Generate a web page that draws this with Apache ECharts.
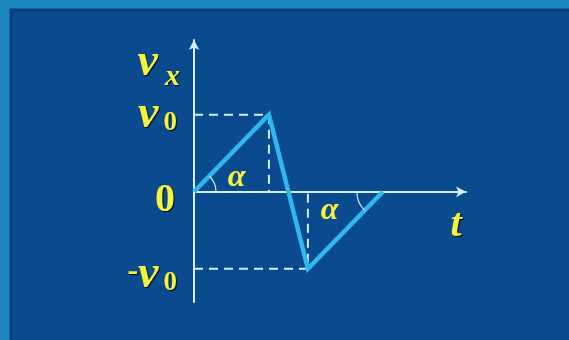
<!DOCTYPE html>
<html><head><meta charset="utf-8">
<script src="https://cdn.jsdelivr.net/npm/echarts@6/dist/echarts.min.js"></script>
<style>html,body{margin:0;padding:0;background:#1b87c1}#c{width:569px;height:340px}</style>
</head><body><div id="c"></div>
<script>
// data
const tValues = [0, 1, 1.52, 2.52];
const vValues = [0, 1, -1, 0];
const yTickValues = [1, 0, -1];
const yTickLabels = ['v0', '0', '-v0'];
const alphaLabels = [[0.57, 0.18], [1.81, -0.24]];
const alphaVertices = [0, 3]; // indices of points where angle α is marked

const chart = echarts.init(document.getElementById('c'));
const yellow = '#f4f43c';
const shadow = {textShadowColor: 'rgba(0,0,30,0.9)', textShadowBlur: 1, textShadowOffsetX: 1, textShadowOffsetY: 1};
const serif = '"Liberation Serif", "DejaVu Serif", serif';
const axisCol = '#d6eeff';
const lineCol = '#2fb8f0';

const pts = tValues.map((t, i) => [t, vValues[i]]);
const guide1 = [[0, vValues[1]], [tValues[1], vValues[1]], [tValues[1], 0]];
const guide2 = [[0, vValues[2]], [tValues[2], vValues[2]], [tValues[2], 0]];

function labelFmt(v) {
  const i = yTickValues.indexOf(v);
  const s = yTickLabels[i];
  if (s === '0') return '{z|0}';
  if (s === 'v0') return '{v|v}{s|0}';
  return '{m|-}{vl|v}{sl|0}';
}

const vStyle = Object.assign({color: yellow, fontFamily: serif, fontStyle: 'italic', fontWeight: 'bold', fontSize: 46, padding: [0, 5, 0, 0]}, shadow);
const sStyle = Object.assign({color: yellow, fontFamily: serif, fontWeight: 'bold', fontSize: 27, padding: [16, 0, 0, 0]}, shadow);

chart.setOption({
  backgroundColor: '#1b87c1',
  animation: false,
  graphic: [{
    type: 'rect', z: -10, silent: true,
    shape: {x: 11, y: 10, width: 560, height: 332},
    style: {fill: '#0a4a8f', stroke: '#0a3f7c', lineWidth: 3}
  }],
  grid: {left: 194, right: 103, top: 40, bottom: 38},
  xAxis: {
    type: 'value', min: 0, max: 3.63,
    axisLine: {show: true, lineStyle: {color: axisCol, width: 2}, symbol: ['none', 'arrow'], symbolSize: [8, 10]},
    axisTick: {show: false}, axisLabel: {show: false}, splitLine: {show: false},
    name: 't', nameLocation: 'end', nameGap: -10,
    nameTextStyle: Object.assign({color: yellow, fontFamily: serif, fontStyle: 'italic', fontWeight: 'bold', fontSize: 40,
      align: 'center', verticalAlign: 'top', padding: [14, 0, 0, 0]}, shadow)
  },
  yAxis: {
    type: 'value', min: -1.43, max: 1.97,
    axisLine: {show: true, lineStyle: {color: axisCol, width: 2}, symbol: ['none', 'arrow'], symbolSize: [8, 10]},
    axisTick: {show: false}, splitLine: {show: false},
    axisLabel: {
      show: true, customValues: yTickValues, margin: 17,
      formatter: labelFmt,
      rich: {
        v: vStyle,
        s: sStyle,
        vl: Object.assign({}, vStyle, {padding: [12, 5, 0, 0]}),
        sl: Object.assign({}, sStyle, {padding: [28, 0, 0, 0]}),
        m: Object.assign({color: yellow, fontFamily: serif, fontWeight: 'bold', fontSize: 32, padding: [6, 0, 0, 0]}, shadow),
        z: Object.assign({color: yellow, fontFamily: serif, fontWeight: 'bold', fontSize: 40, padding: [18, 2, 0, 0]}, shadow)
      }
    },
    name: '{v|v}{s|x}', nameLocation: 'end', nameGap: -26,
    nameTextStyle: {align: 'right', verticalAlign: 'middle', padding: [0, 14, 0, 0],
      rich: {
        v: Object.assign({}, vStyle, {padding: [0, 7, 0, 0]}),
        s: Object.assign({color: yellow, fontFamily: serif, fontStyle: 'italic', fontWeight: 'bold', fontSize: 30, padding: [28, 0, 0, 0]}, shadow)
      }}
  },
  series: [
    {type: 'line', data: guide1, symbol: 'none', lineStyle: {color: axisCol, width: 2, type: [9, 6]}, z: 2},
    {type: 'line', data: guide2, symbol: 'none', lineStyle: {color: axisCol, width: 2, type: [9, 6]}, z: 2},
    {type: 'line', data: pts, symbol: 'none', lineStyle: {color: lineCol, width: 4.5, join: 'miter'}, z: 5},
    {type: 'scatter', data: alphaLabels, symbolSize: 0, z: 6, emphasis: {disabled: true},
      itemStyle: {opacity: 1},
      label: {show: true, formatter: '{a|α}', position: 'inside',
        rich: {a: {color: yellow, fontFamily: serif, fontStyle: 'italic', fontWeight: 'bold', fontSize: 32,
          textShadowColor: 'rgba(0,0,30,0.9)', textShadowOffsetX: 1, textShadowOffsetY: 1}}}},
    {type: 'custom', z: 6, data: alphaVertices.map(i => pts[i]),
      renderItem: function (params, api) {
        const p = api.coord([api.value(0), api.value(1)]);
        const first = params.dataIndex === 0;
        return {type: 'arc', shape: {cx: p[0], cy: p[1], r: first ? 22 : 26,
            startAngle: first ? -Math.PI / 4 : 3 * Math.PI / 4, endAngle: first ? 0 : Math.PI},
          style: {stroke: axisCol, lineWidth: 1.2, fill: null}};
      }}
  ]
});
</script></body></html>
